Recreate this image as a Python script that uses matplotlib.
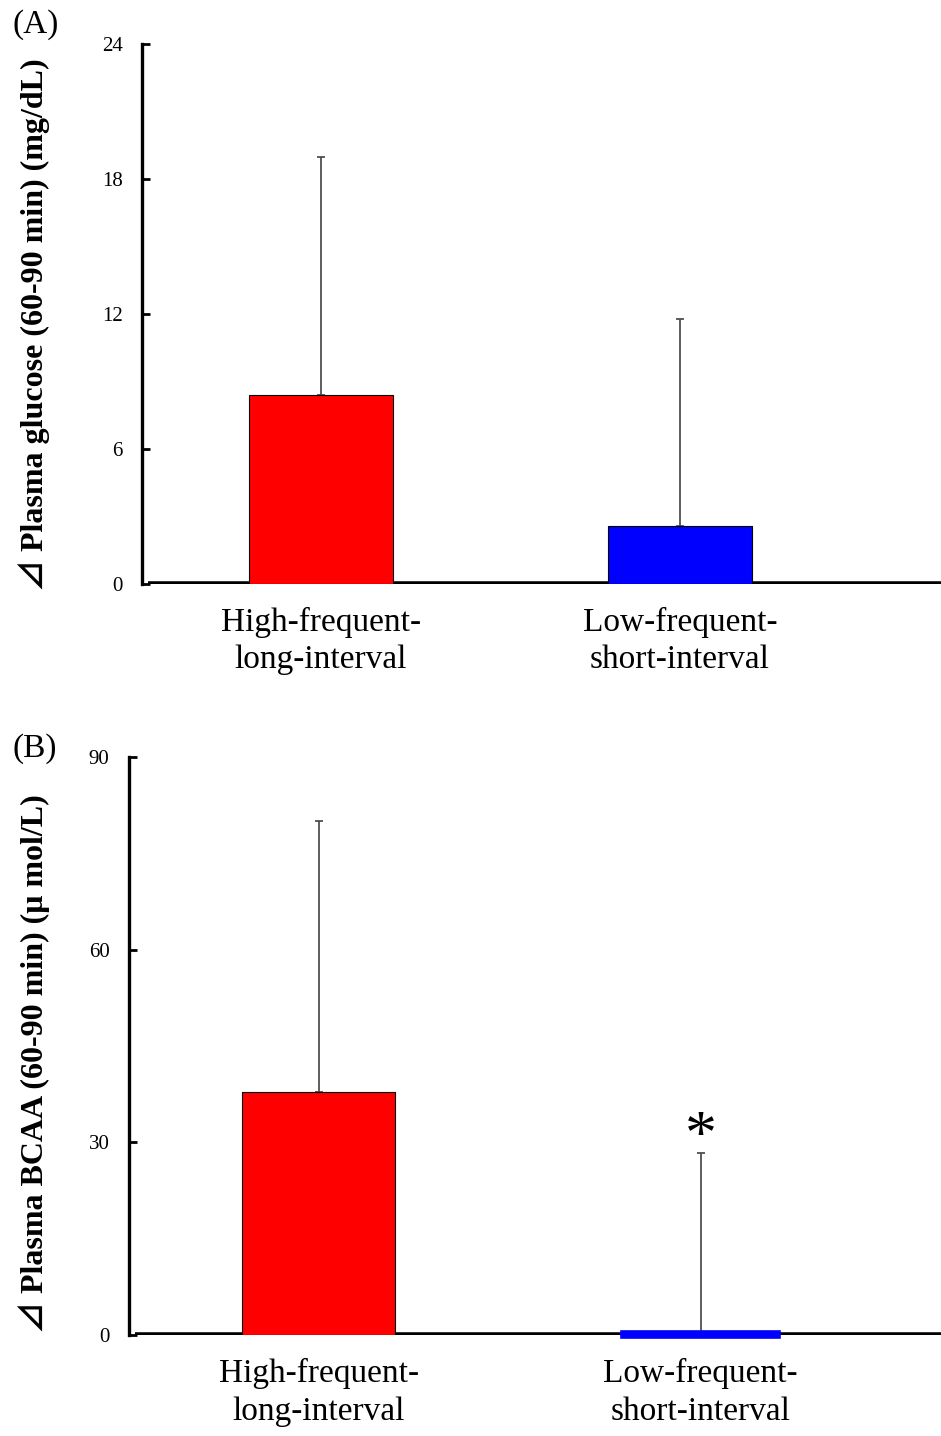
import matplotlib
matplotlib.use("Agg")
import matplotlib.pyplot as plt

plt.rcParams['font.family'] = ['Liberation Serif', 'Noto Sans CJK JP', 'DejaVu Sans']

categories = ["High-frequent-\nlong-interval", "Low-frequent-\nshort-interval"]
colors = ["#ff0000", "#0000ff"]

glucose_mean = [8.4, 2.6]
glucose_sd = [10.6, 9.2]
glucose_ticks = [0, 6, 12, 18, 24]

bcaa_mean = [37.9, 0.2]
bcaa_sd = [42.1, 28.1]
bcaa_ticks = [0, 30, 60, 90]

W, H = 941, 1436
fig = plt.figure(figsize=(W / 100, H / 100), dpi=100)


def panel(rect, means, sds, ticks, ylabel, xlim, star=False, label_y=0.0):
    ax = fig.add_axes(rect)
    x = list(range(len(means)))
    ax.errorbar(x, means, yerr=[[0] * len(sds), sds], fmt='none', ecolor='#505050',
                elinewidth=1.3, capsize=3.2, capthick=1.3, zorder=2)
    ax.axhline(0, xmin=0.007, xmax=1, color='black', lw=4, zorder=3, solid_capstyle='butt')
    bars = ax.bar(x, means, width=0.40, color=colors, edgecolor='black', linewidth=0.8, zorder=4)
    if star:
        bars[1].set_edgecolor(colors[1])
        bars[1].set_linewidth(5.5)
        bars[1].set_clip_on(False)
        ax.text(1, means[1] + sds[1] - 2.3, "*", ha='center', va='bottom', fontsize=46)
    ax.set_xlim(*xlim)
    ax.set_ylim(ticks[0], ticks[-1])
    ax.set_yticks(ticks)
    ax.set_yticklabels([str(t) for t in ticks], fontsize=15)
    ax.tick_params(axis='y', direction='in', length=6, width=2, pad=14)
    ax.set_xticks([])
    for s in ['top', 'right', 'bottom']:
        ax.spines[s].set_visible(False)
    ax.spines['left'].set_linewidth(2.4)
    for xi, c in zip(x, categories):
        ax.text(xi, label_y, c, ha='center', va='top', fontsize=24, linespacing=1.3,
                transform=ax.get_xaxis_transform())
    ax.set_ylabel(ylabel, fontsize=23, fontweight='bold')
    return ax


axA = panel([142 / W, (H - 584) / H, (W - 142) / W, 540 / H], glucose_mean, glucose_sd,
            glucose_ticks, "⊿ Plasma glucose (60-90 min) (mg/dL)", (-0.497, 1.726),
            label_y=-0.042)
axA.yaxis.set_label_coords(-0.115, 0.48)
fig.text(12 / W, 1 - 33 / H, "(A)", fontsize=24, ha='left', va='baseline')

axB = panel([129 / W, (H - 1335) / H, (W - 129) / W, 578 / H], bcaa_mean, bcaa_sd,
            bcaa_ticks, "⊿ Plasma BCAA (60-90 min) (μ mol/L)", (-0.4965, 1.629),
            star=True, label_y=-0.04)
axB.yaxis.set_label_coords(-0.097, 0.47)
fig.text(12 / W, 1 - 757 / H, "(B)", fontsize=24, ha='left', va='baseline')

fig.savefig("out.png", dpi=100)
